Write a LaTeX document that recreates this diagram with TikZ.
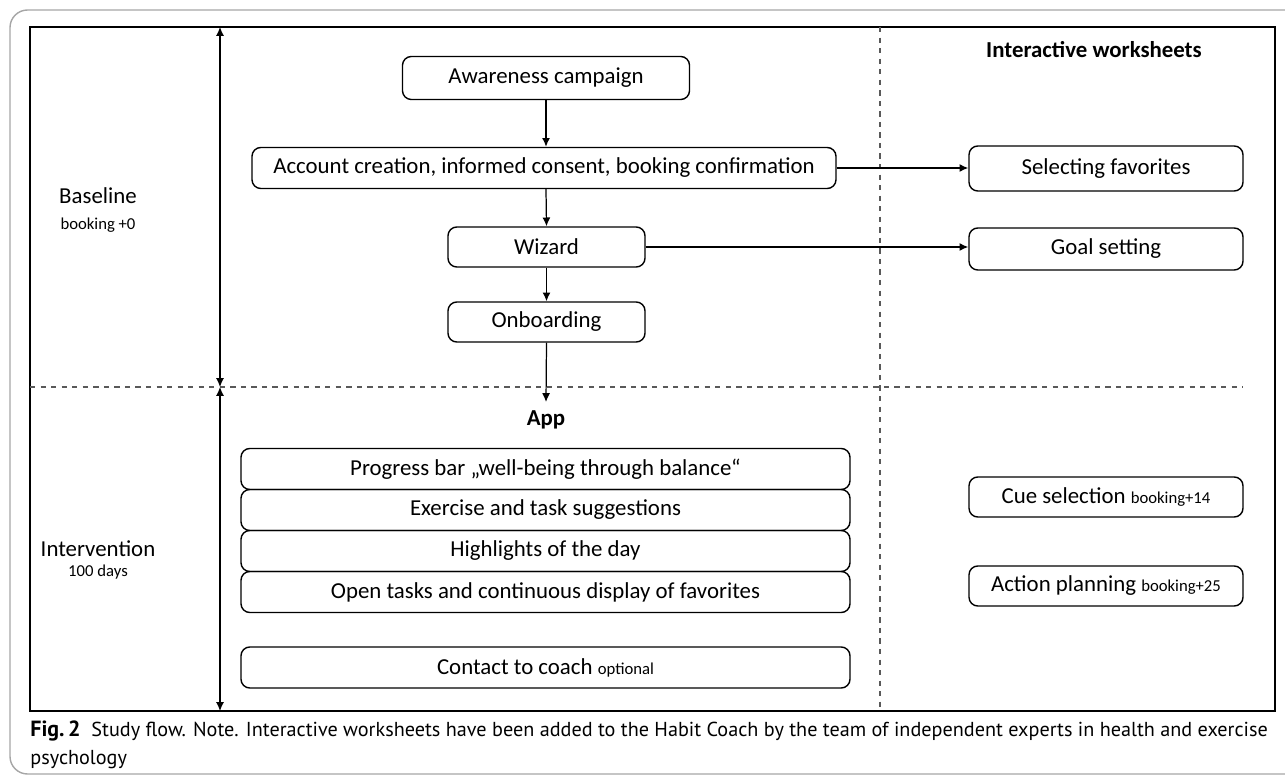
\documentclass[tikz,border=0pt]{standalone}
\usepackage{fontspec}
\setmainfont{Carlito}
\newfontfamily\capfont{PT Sans}
\usepackage{tikz}
\usetikzlibrary{calc}
\usetikzlibrary{arrows.meta}
\usetikzlibrary{positioning}
\newcommand{\sm} [1] {{\fontsize{9.5}{10}\selectfont #1}}

\begin{document}
\begin{tikzpicture}[x=0.02cm, y=-0.02cm, >={Latex[length=5pt,width=4.5pt]}]
\tikzset{box/.style={draw=black, rounded corners=5pt, line width=0.8pt, inner sep=0pt, font=\fontsize{13}{15}\selectfont}}
\tikzset{lbl/.style={font=\fontsize{13}{15}\selectfont}}
\tikzset{sep/.style={dashed, gray!70!black, line width=0.6pt}}
\useasboundingbox (0,0) rectangle (1285,780);
\draw[gray!70, line width=0.8pt, rounded corners=10pt] (1300,10) -- (10,10) -- (10,774) -- (1300,774);
\draw[line width=1pt] (30,27) rectangle (1275,711);

\draw[sep] (880,27) -- (880,711);
\draw[sep] (30,387) -- (1243,387);

\coordinate (top) at (220,27);
\coordinate (mid) at (220,387);
\coordinate (bot) at (220,711);
\draw[<->, line width=0.7pt] (top) -- (mid);
\draw[<->, line width=0.7pt] (mid) -- (bot);

\node[lbl] (base) at (98,196) {Baseline};
\node (base0) at (98,225) {\sm{booking +0}};
\node[lbl] (inter) at (98,549) {Intervention};
\node (inter0) at (98,572) {\sm{100 days}};

\node[box, minimum width=287*0.02cm, minimum height=43*0.02cm] (aware) at (546,78) {Awareness campaign};
\node[box, minimum width=584*0.02cm, minimum height=41*0.02cm] (account) at (544,168) {Account creation, informed consent, booking confirmation};
\node[box, minimum width=197*0.02cm, minimum height=40*0.02cm] (wizard) at (546.5,247) {Wizard};
\node[box, minimum width=197*0.02cm, minimum height=40*0.02cm] (onboard) at (546.5,322) {Onboarding};
\coordinate (appin) at (546,402);
\node[lbl, font=\fontsize{13}{15}\selectfont\bfseries] (app) at (546,420) {App};

\node[box, minimum width=609*0.02cm, minimum height=41*0.02cm] (progress) at (545.5,469) {Progress bar „well-being through balance“};
\node[box, minimum width=609*0.02cm, minimum height=41*0.02cm] (exercise) at (545.5,510) {Exercise and task suggestions};
\node[box, minimum width=609*0.02cm, minimum height=41*0.02cm] (highlights) at (545.5,551) {Highlights of the day};
\node[box, minimum width=609*0.02cm, minimum height=41*0.02cm] (open) at (545.5,592) {Open tasks and continuous display of favorites};
\node[box, minimum width=609*0.02cm, minimum height=41*0.02cm] (coach) at (545.5,667.5) {Contact to coach \sm{optional}};

\node[lbl, font=\fontsize{13}{15}\selectfont\bfseries] (iwork) at (1094,50) {Interactive worksheets};
\node[box, minimum width=274*0.02cm, minimum height=45*0.02cm] (favs) at (1106,168.5) {Selecting favorites};
\node[box, minimum width=274*0.02cm, minimum height=42*0.02cm] (goal) at (1106,249) {Goal setting};
\node[box, minimum width=274*0.02cm, minimum height=40*0.02cm] (cue) at (1106,497) {Cue selection \sm{booking+14}};
\node[box, minimum width=274*0.02cm, minimum height=40*0.02cm] (action) at (1106,586) {Action planning \sm{booking+25}};

\begin{scope}[->, line width=0.7pt]
\draw (aware.south) -- (aware.south |- account.north);
\draw (aware.south |- account.south) -- (wizard.north);
\draw (wizard.south) -- (onboard.north);
\draw (onboard.south) -- (appin);
\draw (account.east) -- (account.east -| favs.west);
\draw (wizard.east) -- (wizard.east -| goal.west);
\end{scope}

\node[anchor=north west, align=left, inner sep=0pt, font=\capfont\fontsize{11.5}{16}\selectfont] (caption) at (30,720)
  {{\fontsize{12.5}{16}\selectfont\textbf{Fig.\,2}}\ \ Study flow. Note. Interactive worksheets have been added to the Habit Coach by the team of independent experts in health and exercise\\psychology};

\end{tikzpicture}
\end{document}
